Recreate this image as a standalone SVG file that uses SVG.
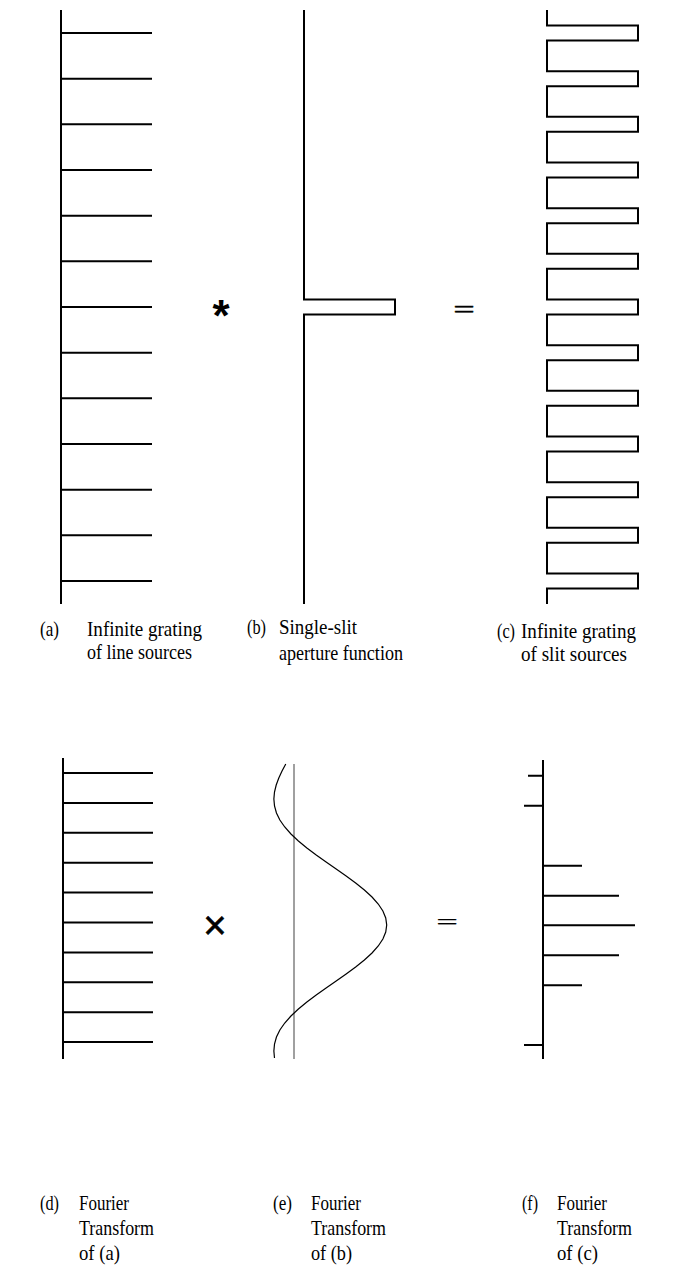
<svg xmlns="http://www.w3.org/2000/svg" width="693" height="1277" viewBox="0 0 693 1277">
<style>
.ln{stroke:#000;stroke-width:2;fill:none}
.thin{stroke:#000;stroke-width:1.2;fill:none}
.gray{stroke:#808080;stroke-width:1.5;fill:none}
.lbl{font-family:"Liberation Serif","Times New Roman",serif;font-size:21px;fill:#000}
.op{font-family:"Liberation Sans",Arial,sans-serif;fill:#000}
.eq{font-family:"Liberation Serif","Times New Roman",serif;fill:#000}
</style>
<rect width="693" height="1277" fill="#fff"/>
<g id="a">
<path class="ln" d="M61,10V604M61,33H152M61,78.7H152M61,124.3H152M61,170H152M61,215.7H152M61,261.3H152M61,307H152M61,352.7H152M61,398.3H152M61,444H152M61,489.7H152M61,535.3H152M61,581H152"/>
</g>
<g id="b">
<path class="ln" d="M304,10V299.5H395V314.5H304V604"/>
</g>
<g id="c">
<path class="ln" d="M547,10V25.5H638V40.5H547V71.2H638V86.2H547V116.8H638V131.8H547V162.5H638V177.5H547V208.2H638V223.2H547V253.8H638V268.8H547V299.5H638V314.5H547V345.2H638V360.2H547V390.8H638V405.8H547V436.5H638V451.5H547V482.2H638V497.2H547V527.8H638V542.8H547V573.5H638V588.5H547V604"/>
</g>
<g id="ops">
<text class="op" x="221" y="331" font-size="44" font-weight="bold" text-anchor="middle">*</text>
<text class="eq" transform="translate(464,317.5) scale(1.5,1)" x="0" y="0" font-size="25.5" text-anchor="middle" stroke="#000" stroke-width="0.4">=</text>
<text class="op" x="215" y="939" font-size="40" text-anchor="middle" stroke="#000" stroke-width="0.6">×</text>
<text class="eq" transform="translate(447,929) scale(1.75,1)" x="0" y="0" font-size="22" text-anchor="middle" stroke="#000" stroke-width="0.2">=</text>
</g>
<g id="d">
<path class="ln" d="M63,758V1059M63,773H153M63,802.9H153M63,832.8H153M63,862.7H153M63,892.6H153M63,922.5H153M63,952.4H153M63,982.3H153M63,1012.2H153M63,1042.1H153"/>
</g>
<g id="e">
<path class="gray" d="M294,764V1059"/>
<path class="thin" d="M285.76,764L282.03,771L278.8,778L276.21,785L274.49,792L273.87,799L274.51,806L276.45,813L279.87,820L284.74,827L290.95,834L298.4,841L306.88,848L316.23,855L326.1,862L336.18,869L346.15,876L355.67,883L364.39,890L372.02,897L378.26,904L382.89,911L385.74,918L386.7,925L385.74,932L382.89,939L378.26,946L372.02,953L364.39,960L355.67,967L346.15,974L336.18,981L326.1,988L316.23,995L306.88,1002L298.4,1009L290.95,1016L284.74,1023L279.87,1030L276.45,1037L274.51,1044L273.87,1051L274.49,1058"/>
</g>
<g id="f">
<path class="ln" d="M543,760V1059M528,775.7H543M524,805.7H543M543,865.7H582M543,895.7H619M543,925.3H635M543,955.3H619M543,985.3H582M524,1045H543"/>
</g>
<g id="labels">
<text class="lbl" x="40" y="636" textLength="19" lengthAdjust="spacingAndGlyphs">(a)</text>
<text class="lbl" x="87" y="636" textLength="115" lengthAdjust="spacingAndGlyphs">Infinite grating</text>
<text class="lbl" x="87" y="659" textLength="105" lengthAdjust="spacingAndGlyphs">of line sources</text>
<text class="lbl" x="247" y="634" textLength="19" lengthAdjust="spacingAndGlyphs">(b)</text>
<text class="lbl" x="279" y="634" textLength="78" lengthAdjust="spacingAndGlyphs">Single-slit</text>
<text class="lbl" x="279" y="660" textLength="124" lengthAdjust="spacingAndGlyphs">aperture function</text>
<text class="lbl" x="497" y="638" textLength="18" lengthAdjust="spacingAndGlyphs">(c)</text>
<text class="lbl" x="521" y="638" textLength="115" lengthAdjust="spacingAndGlyphs">Infinite grating</text>
<text class="lbl" x="521" y="661" textLength="106" lengthAdjust="spacingAndGlyphs">of slit sources</text>
<text class="lbl" x="40" y="1210" textLength="19" lengthAdjust="spacingAndGlyphs">(d)</text>
<text class="lbl" x="79" y="1210" textLength="50" lengthAdjust="spacingAndGlyphs">Fourier</text>
<text class="lbl" x="79" y="1235" textLength="75" lengthAdjust="spacingAndGlyphs">Transform</text>
<text class="lbl" x="79" y="1260" textLength="41" lengthAdjust="spacingAndGlyphs">of (a)</text>
<text class="lbl" x="273" y="1210" textLength="19" lengthAdjust="spacingAndGlyphs">(e)</text>
<text class="lbl" x="311" y="1210" textLength="50" lengthAdjust="spacingAndGlyphs">Fourier</text>
<text class="lbl" x="311" y="1235" textLength="75" lengthAdjust="spacingAndGlyphs">Transform</text>
<text class="lbl" x="311" y="1260" textLength="41" lengthAdjust="spacingAndGlyphs">of (b)</text>
<text class="lbl" x="522" y="1210" textLength="16" lengthAdjust="spacingAndGlyphs">(f)</text>
<text class="lbl" x="557" y="1210" textLength="50" lengthAdjust="spacingAndGlyphs">Fourier</text>
<text class="lbl" x="557" y="1235" textLength="75" lengthAdjust="spacingAndGlyphs">Transform</text>
<text class="lbl" x="557" y="1260" textLength="41" lengthAdjust="spacingAndGlyphs">of (c)</text>
</g>
</svg>
